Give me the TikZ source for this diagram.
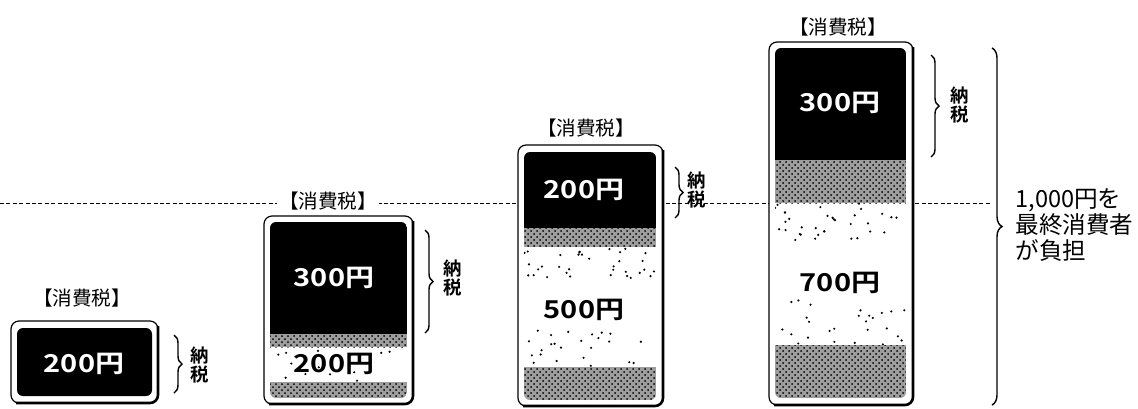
\documentclass[tikz,border=0pt]{standalone}
\usepackage{fontspec}
\setmainfont{Noto Sans CJK JP}
\newfontfamily\amountfont[FakeStretch=1.18]{Noto Sans CJK JP Bold}
\newfontfamily\heavyfont{Noto Sans CJK JP Bold}
\usetikzlibrary{positioning, decorations.pathreplacing, patterns}

% scattered dots: x1 y1 x2 y2 count
\newcommand\sprinkle[5]{%
  \foreach \k in {1,...,#5}{
    \pgfmathsetmacro\px{#1+(#3-#1)*rnd}
    \pgfmathsetmacro\py{#2+(#4-#2)*rnd}
    \fill (\px,\py) circle[radius=0.6pt];
  }}

\begin{document}
\begin{tikzpicture}[x=0.5pt, y=-0.5pt,
        taxlabel/.style={font=\fontsize{9.8}{11}\selectfont, fill=white, inner sep=1pt},
        paylabel/.style={font=\heavyfont\fontsize{9.2}{9.6}\selectfont, align=center, inner sep=0pt},
        amount/.style={font=\amountfont\fontsize{12.3}{14}\selectfont, inner sep=0pt},
        frame/.style={rounded corners=4pt, line width=0.6pt},
        shade edge/.style={rounded corners=4pt, line width=1.3pt},
        stipple/.style={preaction={fill=black!38}, pattern=crosshatch dots, pattern color=black},
        tax brace/.style={decorate, decoration={brace, amplitude=4pt}, line width=0.7pt},
        level line/.style={dash pattern=on 2pt off 1.2pt, line width=0.5pt},
    ]
    \useasboundingbox (0,0) rectangle (1138,408);
    \pgfmathsetseed{7}
    % price level
    \draw[level line] (0,203) -- (990,203);

    % stage 1
    \draw[frame, fill=white] (11,321) rectangle (158,403);
    \draw[shade edge] (158,326) -- (158,403) -- (16,403);
    \fill[rounded corners=3pt] (17,328) rectangle (152,396);
    \node[amount, text=white] (amt1) at (84,364) {200円};
    \node[taxlabel] (lab1) at (82,298) {【消費税】};
    \draw[tax brace] (174,335) -- (174,393);
    \node[paylabel] (pay1) at (200,365) {納\\税};

    % stage 2
    \draw[frame, fill=white] (264,216) rectangle (413,404);
    \draw[shade edge] (413,221) -- (413,404) -- (269,404);
    \begin{scope}
        \clip[rounded corners=3pt] (270,222) rectangle (407,398);
        \fill (270,222) rectangle (407,334);
        \fill[stipple] (270,334) rectangle (407,347);
        \fill[stipple] (270,382) rectangle (407,398);
        \sprinkle{270}{347}{407}{382}{14}
    \end{scope}
    \node[amount, text=white] (amt2) at (334,278) {300円};
    \node[amount] (amt2b) at (334,364) {200円};
    \node[taxlabel] (lab2) at (328,201) {【消費税】};
    \draw[tax brace] (425,230) -- (425,333);
    \node[paylabel] (pay2) at (453,278) {納\\税};

    % stage 3
    \draw[frame, fill=white] (518,145) rectangle (663,406);
    \draw[shade edge] (663,150) -- (663,406) -- (523,406);
    \begin{scope}
        \clip[rounded corners=3pt] (524,152) rectangle (656,400);
        \fill (524,152) rectangle (656,228);
        \fill[stipple] (524,228) rectangle (656,247);
        \sprinkle{524}{247}{656}{278}{34}
        \sprinkle{524}{330}{656}{367}{24}
        \fill[stipple] (524,367) rectangle (656,400);
    \end{scope}
    \node[amount, text=white] (amt3) at (584,190) {200円};
    \node[amount] (amt3b) at (584,310) {500円};
    \node[taxlabel] (lab3) at (586,128) {【消費税】};
    \draw[tax brace] (675,167) -- (675,218);
    \node[paylabel] (pay3) at (697,190) {納\\税};

    % stage 4
    \draw[frame, fill=white] (769,42) rectangle (913,405);
    \draw[shade edge] (913,47) -- (913,405) -- (774,405);
    \begin{scope}
        \clip[rounded corners=3pt] (775,48) rectangle (906,398);
        \fill (775,48) rectangle (906,160);
        \fill[stipple] (775,160) rectangle (906,203);
        \sprinkle{775}{203}{906}{240}{34}
        \sprinkle{775}{300}{906}{345}{26}
        \fill[stipple] (775,345) rectangle (906,398);
    \end{scope}
    \node[amount, text=white] (amt4) at (840,103) {300円};
    \node[amount] (amt4b) at (840,283) {700円};
    \node[taxlabel] (lab4) at (838,27) {【消費税】};
    \draw[tax brace] (931,55) -- (931,157);
    \node[paylabel] (pay4) at (960,105) {納\\税};

    % whole burden
    \draw[tax brace, decoration={amplitude=5pt}] (992,48) -- (992,405);
    \node[font=\fontsize{11.8}{13}\selectfont, align=left, anchor=west, inner sep=0pt]
        (burden) at (1015,225) {1,000円を\\最終消費者\\が負担};
\end{tikzpicture}
\end{document}
